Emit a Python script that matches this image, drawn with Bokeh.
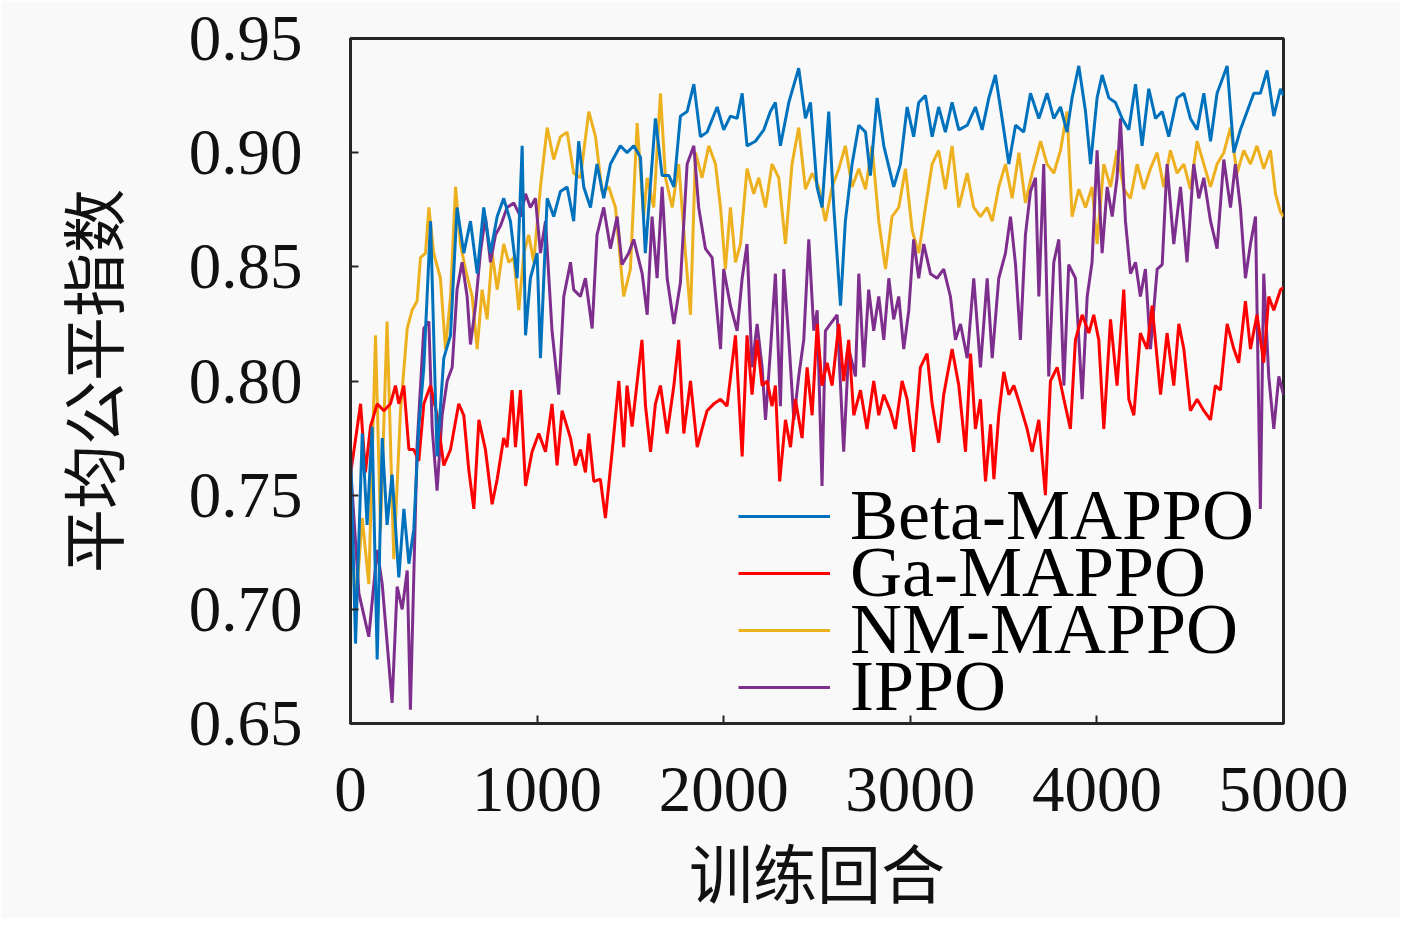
from bokeh.embed import file_html
from bokeh.models import ColumnDataSource, FixedTicker, Legend, LegendItem, PrintfTickFormatter
from bokeh.plotting import figure
from bokeh.resources import INLINE

# Training curves (episode, mean fairness index)
beta_step = [0, 27, 63, 89, 116, 143, 170, 196, 223, 259, 286, 313, 339, 366, 393, 429, 464, 500, 536, 571,
             607, 643, 679, 714, 750, 786, 821, 857, 893, 920, 938, 964, 1000, 1018, 1054, 1089, 1125, 1161,
             1196, 1223, 1250, 1286, 1321, 1357, 1393, 1446, 1482, 1518, 1554, 1580, 1634, 1670, 1706, 1733,
             1768, 1804, 1840, 1875, 1911, 1965, 2000, 2036, 2072, 2099, 2125, 2170, 2215, 2250, 2277, 2304,
             2349, 2402, 2438, 2465, 2500, 2527, 2563, 2590, 2626, 2652, 2688, 2724, 2760, 2786, 2822, 2858,
             2911, 2947, 2983, 3018, 3045, 3081, 3117, 3152, 3188, 3224, 3260, 3305, 3349, 3385, 3421, 3456,
             3492, 3528, 3564, 3608, 3644, 3689, 3733, 3769, 3805, 3840, 3867, 3903, 3939, 3966, 4001, 4028,
             4064, 4099, 4135, 4171, 4207, 4242, 4278, 4314, 4350, 4385, 4430, 4466, 4501, 4537, 4573, 4609,
             4644, 4698, 4734, 4769, 4805, 4841, 4876, 4912, 4948, 4984, 5000]
beta_val = [0.771, 0.685, 0.777, 0.737, 0.780, 0.678, 0.775, 0.737, 0.759, 0.714, 0.744, 0.720, 0.735, 0.780,
            0.806, 0.870, 0.767, 0.810, 0.820, 0.876, 0.856, 0.870, 0.847, 0.876, 0.856, 0.872, 0.880, 0.870,
            0.845, 0.903, 0.820, 0.845, 0.856, 0.810, 0.880, 0.872, 0.883, 0.885, 0.870, 0.905, 0.885, 0.876,
            0.895, 0.880, 0.895, 0.903, 0.900, 0.903, 0.898, 0.856, 0.915, 0.890, 0.890, 0.885, 0.916, 0.918,
            0.930, 0.907, 0.909, 0.920, 0.910, 0.916, 0.915, 0.926, 0.903, 0.905, 0.910, 0.918, 0.922, 0.903,
            0.922, 0.937, 0.915, 0.922, 0.885, 0.876, 0.918, 0.876, 0.833, 0.870, 0.895, 0.912, 0.909, 0.890,
            0.924, 0.903, 0.885, 0.895, 0.920, 0.907, 0.922, 0.925, 0.907, 0.920, 0.909, 0.922, 0.910, 0.912,
            0.920, 0.910, 0.924, 0.934, 0.915, 0.895, 0.912, 0.909, 0.926, 0.915, 0.926, 0.915, 0.920, 0.909,
            0.924, 0.938, 0.918, 0.895, 0.924, 0.934, 0.924, 0.922, 0.915, 0.910, 0.930, 0.903, 0.928, 0.915,
            0.918, 0.907, 0.924, 0.926, 0.915, 0.910, 0.926, 0.905, 0.926, 0.938, 0.900, 0.910, 0.918, 0.926,
            0.926, 0.936, 0.916, 0.928, 0.925]

ga_step = [0, 54, 80, 107, 143, 179, 214, 241, 259, 286, 313, 339, 366, 393, 429, 464, 500, 536, 580, 607,
           634, 661, 688, 723, 759, 786, 821, 839, 866, 884, 911, 938, 973, 1009, 1045, 1080, 1107, 1134, 1179,
           1205, 1232, 1259, 1277, 1304, 1339, 1366, 1402, 1438, 1464, 1482, 1509, 1562, 1581, 1608, 1634, 1661,
           1697, 1733, 1759, 1786, 1822, 1858, 1884, 1911, 1947, 1983, 2018, 2063, 2099, 2125, 2152, 2179, 2206,
           2233, 2259, 2277, 2300, 2331, 2358, 2384, 2420, 2447, 2474, 2501, 2527, 2554, 2581, 2617, 2643, 2670,
           2697, 2733, 2768, 2804, 2831, 2858, 2893, 2920, 2956, 2983, 3018, 3054, 3090, 3117, 3152, 3179, 3224,
           3260, 3296, 3323, 3349, 3376, 3403, 3430, 3448, 3474, 3501, 3528, 3555, 3590, 3626, 3653, 3689, 3724,
           3751, 3787, 3823, 3858, 3885, 3921, 3957, 3983, 4010, 4037, 4073, 4108, 4144, 4171, 4198, 4233, 4269,
           4296, 4341, 4376, 4412, 4439, 4466, 4501, 4537, 4573, 4609, 4635, 4662, 4698, 4734, 4760, 4796, 4823,
           4858, 4894, 4921, 4948, 4984, 5000]
ga_val = [0.759, 0.790, 0.760, 0.780, 0.790, 0.787, 0.790, 0.798, 0.790, 0.798, 0.770, 0.770, 0.765, 0.790,
          0.798, 0.785, 0.763, 0.770, 0.790, 0.785, 0.761, 0.744, 0.783, 0.770, 0.746, 0.757, 0.775, 0.771, 0.796,
          0.771, 0.796, 0.754, 0.769, 0.777, 0.769, 0.790, 0.763, 0.787, 0.775, 0.763, 0.770, 0.760, 0.777, 0.756,
          0.757, 0.740, 0.769, 0.800, 0.771, 0.798, 0.780, 0.818, 0.789, 0.769, 0.790, 0.798, 0.777, 0.798, 0.818,
          0.777, 0.800, 0.771, 0.779, 0.787, 0.790, 0.792, 0.789, 0.820, 0.767, 0.820, 0.794, 0.818, 0.798, 0.800,
          0.789, 0.798, 0.756, 0.783, 0.771, 0.792, 0.775, 0.806, 0.785, 0.825, 0.798, 0.808, 0.798, 0.825, 0.800,
          0.818, 0.785, 0.796, 0.779, 0.800, 0.785, 0.794, 0.787, 0.779, 0.800, 0.792, 0.769, 0.806, 0.812, 0.790,
          0.773, 0.794, 0.814, 0.798, 0.769, 0.812, 0.779, 0.792, 0.756, 0.781, 0.757, 0.785, 0.804, 0.794, 0.798,
          0.789, 0.779, 0.769, 0.783, 0.750, 0.800, 0.806, 0.792, 0.779, 0.818, 0.829, 0.821, 0.829, 0.818, 0.779,
          0.827, 0.798, 0.840, 0.792, 0.785, 0.821, 0.814, 0.833, 0.794, 0.821, 0.798, 0.825, 0.814, 0.787, 0.792,
          0.787, 0.783, 0.798, 0.796, 0.825, 0.814, 0.808, 0.835, 0.814, 0.829, 0.808, 0.837, 0.831, 0.840, 0.841]

nm_step = [0, 27, 63, 98, 134, 161, 196, 232, 268, 304, 330, 357, 375, 402, 420, 446, 482, 509, 536, 563, 589,
           616, 652, 679, 705, 732, 759, 786, 821, 848, 875, 902, 929, 955, 982, 1018, 1054, 1089, 1125, 1161,
           1196, 1232, 1277, 1313, 1348, 1384, 1420, 1464, 1500, 1536, 1571, 1590, 1625, 1661, 1688, 1724, 1759,
           1795, 1822, 1849, 1884, 1920, 1956, 1983, 2009, 2036, 2063, 2090, 2125, 2161, 2188, 2224, 2259, 2295,
           2331, 2366, 2402, 2438, 2474, 2509, 2545, 2581, 2617, 2652, 2688, 2724, 2760, 2795, 2831, 2867, 2902,
           2938, 2974, 3010, 3045, 3081, 3117, 3152, 3188, 3224, 3260, 3305, 3340, 3376, 3412, 3439, 3474, 3510,
           3546, 3582, 3617, 3653, 3698, 3733, 3769, 3805, 3840, 3867, 3903, 3939, 3974, 4001, 4037, 4073, 4108,
           4144, 4180, 4216, 4251, 4287, 4323, 4358, 4394, 4430, 4466, 4501, 4537, 4573, 4609, 4644, 4680, 4716,
           4751, 4787, 4823, 4858, 4894, 4930, 4957, 4984, 5000]
nm_val = [0.745, 0.700, 0.740, 0.711, 0.820, 0.735, 0.826, 0.722, 0.787, 0.823, 0.831, 0.835, 0.854, 0.856,
          0.876, 0.856, 0.845, 0.814, 0.837, 0.885, 0.860, 0.849, 0.837, 0.814, 0.840, 0.827, 0.856, 0.840, 0.860,
          0.852, 0.854, 0.831, 0.856, 0.864, 0.852, 0.885, 0.911, 0.897, 0.907, 0.909, 0.891, 0.889, 0.918, 0.907,
          0.883, 0.885, 0.876, 0.837, 0.849, 0.913, 0.872, 0.889, 0.876, 0.926, 0.889, 0.876, 0.895, 0.856, 0.829,
          0.900, 0.889, 0.903, 0.895, 0.876, 0.849, 0.876, 0.852, 0.860, 0.893, 0.882, 0.889, 0.876, 0.895, 0.889,
          0.860, 0.895, 0.911, 0.884, 0.891, 0.885, 0.870, 0.885, 0.893, 0.903, 0.885, 0.893, 0.884, 0.903, 0.870,
          0.849, 0.872, 0.876, 0.893, 0.866, 0.856, 0.876, 0.895, 0.901, 0.884, 0.903, 0.876, 0.891, 0.876, 0.872,
          0.876, 0.870, 0.885, 0.895, 0.880, 0.900, 0.878, 0.891, 0.905, 0.895, 0.891, 0.901, 0.918, 0.872, 0.884,
          0.876, 0.885, 0.860, 0.895, 0.885, 0.901, 0.884, 0.880, 0.895, 0.884, 0.893, 0.900, 0.885, 0.901, 0.891,
          0.895, 0.884, 0.905, 0.895, 0.885, 0.895, 0.900, 0.911, 0.891, 0.901, 0.895, 0.903, 0.893, 0.901, 0.882,
          0.874, 0.872]

ippo_step = [0, 45, 98, 143, 170, 223, 250, 277, 304, 321, 357, 393, 420, 438, 464, 491, 518, 545, 571, 598,
             625, 643, 670, 696, 723, 750, 777, 804, 839, 875, 911, 938, 964, 991, 1018, 1045, 1080, 1116, 1143,
             1179, 1196, 1232, 1259, 1295, 1321, 1357, 1393, 1429, 1455, 1491, 1518, 1563, 1590, 1616, 1643, 1670,
             1697, 1733, 1768, 1804, 1840, 1866, 1902, 1938, 1983, 2000, 2036, 2072, 2099, 2125, 2152, 2179, 2206,
             2224, 2251, 2277, 2304, 2322, 2349, 2376, 2402, 2429, 2456, 2483, 2501, 2527, 2545, 2572, 2608, 2643,
             2670, 2706, 2724, 2751, 2777, 2804, 2831, 2858, 2885, 2911, 2938, 2965, 2992, 3018, 3045, 3072, 3108,
             3143, 3179, 3215, 3242, 3269, 3305, 3340, 3376, 3412, 3439, 3474, 3510, 3537, 3564, 3590, 3617, 3644,
             3671, 3689, 3715, 3742, 3769, 3796, 3823, 3849, 3885, 3921, 3948, 3974, 4001, 4028, 4055, 4082, 4108,
             4126, 4153, 4180, 4207, 4233, 4260, 4287, 4323, 4350, 4376, 4412, 4448, 4483, 4519, 4546, 4573, 4609,
             4644, 4680, 4716, 4742, 4769, 4796, 4823, 4850, 4876, 4894, 4921, 4948, 4975, 5000]
ippo_val = [0.763, 0.707, 0.688, 0.726, 0.711, 0.659, 0.710, 0.700, 0.717, 0.656, 0.772, 0.823, 0.826, 0.779,
            0.752, 0.785, 0.800, 0.806, 0.840, 0.852, 0.837, 0.816, 0.833, 0.856, 0.872, 0.852, 0.864, 0.868,
            0.876, 0.878, 0.872, 0.882, 0.876, 0.880, 0.856, 0.870, 0.822, 0.794, 0.837, 0.852, 0.840, 0.837,
            0.845, 0.823, 0.864, 0.876, 0.858, 0.872, 0.851, 0.856, 0.862, 0.847, 0.829, 0.872, 0.845, 0.885,
            0.845, 0.825, 0.843, 0.895, 0.903, 0.876, 0.858, 0.854, 0.814, 0.849, 0.833, 0.822, 0.845, 0.860,
            0.806, 0.825, 0.806, 0.783, 0.814, 0.847, 0.789, 0.849, 0.818, 0.783, 0.802, 0.818, 0.862, 0.822,
            0.831, 0.754, 0.822, 0.825, 0.829, 0.769, 0.814, 0.802, 0.847, 0.806, 0.840, 0.822, 0.837, 0.818,
            0.845, 0.827, 0.837, 0.814, 0.831, 0.862, 0.845, 0.860, 0.847, 0.845, 0.849, 0.837, 0.818, 0.825,
            0.810, 0.845, 0.806, 0.845, 0.810, 0.845, 0.856, 0.872, 0.851, 0.818, 0.864, 0.883, 0.889, 0.837,
            0.895, 0.802, 0.852, 0.862, 0.798, 0.851, 0.845, 0.792, 0.837, 0.852, 0.901, 0.856, 0.885, 0.872,
            0.889, 0.915, 0.870, 0.847, 0.852, 0.837, 0.849, 0.814, 0.849, 0.851, 0.895, 0.860, 0.885, 0.852,
            0.895, 0.880, 0.889, 0.870, 0.858, 0.897, 0.876, 0.895, 0.876, 0.845, 0.860, 0.872, 0.744, 0.847,
            0.802, 0.779, 0.802, 0.794]

series = [
    ("Beta-MAPPO", beta_step, beta_val, "#0072BD"),
    ("Ga-MAPPO", ga_step, ga_val, "#FF0000"),
    ("NM-MAPPO", nm_step, nm_val, "#EDB120"),
    ("IPPO", ippo_step, ippo_val, "#7E2F8E"),
]

x_ticks = [0, 1000, 2000, 3000, 4000, 5000]
y_ticks = [0.65, 0.70, 0.75, 0.80, 0.85, 0.90, 0.95]

BG = "#f9f9f9"
SERIF = "Liberation Serif"
CJK = "Noto Sans CJK SC"

p = figure(
    width=1400,
    height=918,
    x_range=(0, 5000),
    y_range=(0.65, 0.95),
    x_axis_label="训练回合",
    y_axis_label="平均公平指数",
    output_backend="svg",
    toolbar_location=None,
    min_border_left=350,
    min_border_right=117,
    min_border_top=38,
    min_border_bottom=192,
)

# draw order: yellow first, blue on top
renderers = {}
for name, xs, ys, color in [series[2], series[3], series[1], series[0]]:
    src = ColumnDataSource(data={"x": xs, "y": ys})
    renderers[name] = p.line("x", "y", source=src, line_color=color, line_width=3)

# one single-entry legend per row: the reference rows sit closer than
# Bokeh's own item height for such a large font
ROW_GAP = 57
for i, (name, _, _, _) in enumerate(series):
    row_from_bottom = len(series) - 1 - i
    lg = Legend(
        items=[LegendItem(label=name, renderers=[renderers[name]])],
        location=(388, -5 + row_from_bottom * ROW_GAP),
        label_text_font=SERIF,
        label_text_font_size="72px",
        label_text_color="#000000",
        label_standoff=20,
        glyph_width=92,
        glyph_height=40,
        padding=0,
        margin=0,
        background_fill_alpha=0,
        border_line_alpha=0,
    )
    p.add_layout(lg)

p.xaxis.ticker = FixedTicker(ticks=x_ticks)
p.yaxis.ticker = FixedTicker(ticks=y_ticks)
p.yaxis.formatter = PrintfTickFormatter(format="%.2f")

for ax in (p.xaxis, p.yaxis):
    ax.axis_line_width = 3
    ax.axis_line_color = "#262626"
    ax.major_tick_in = 8
    ax.major_tick_out = 0
    ax.major_tick_line_width = 2
    ax.major_tick_line_color = "#262626"
    ax.minor_tick_line_color = None
    ax.major_label_text_font = SERIF
    ax.major_label_text_font_size = "65px"
    ax.major_label_text_color = "#111111"
    ax.axis_label_text_font = CJK
    ax.axis_label_text_font_size = "64px"
    ax.axis_label_text_font_style = "normal"
    ax.axis_label_text_color = "#111111"

p.yaxis.major_label_standoff = 48
p.xaxis.major_label_standoff = 44
p.yaxis.axis_label_standoff = 50
p.xaxis.axis_label_standoff = 10

p.grid.visible = False
p.outline_line_color = "#262626"
p.outline_line_width = 3
p.background_fill_color = BG
p.border_fill_color = BG

html = file_html(p, INLINE)
html = html.replace("<body>", '<body style="background:%s">' % BG, 1)
open("out.html", "w").write(html)
